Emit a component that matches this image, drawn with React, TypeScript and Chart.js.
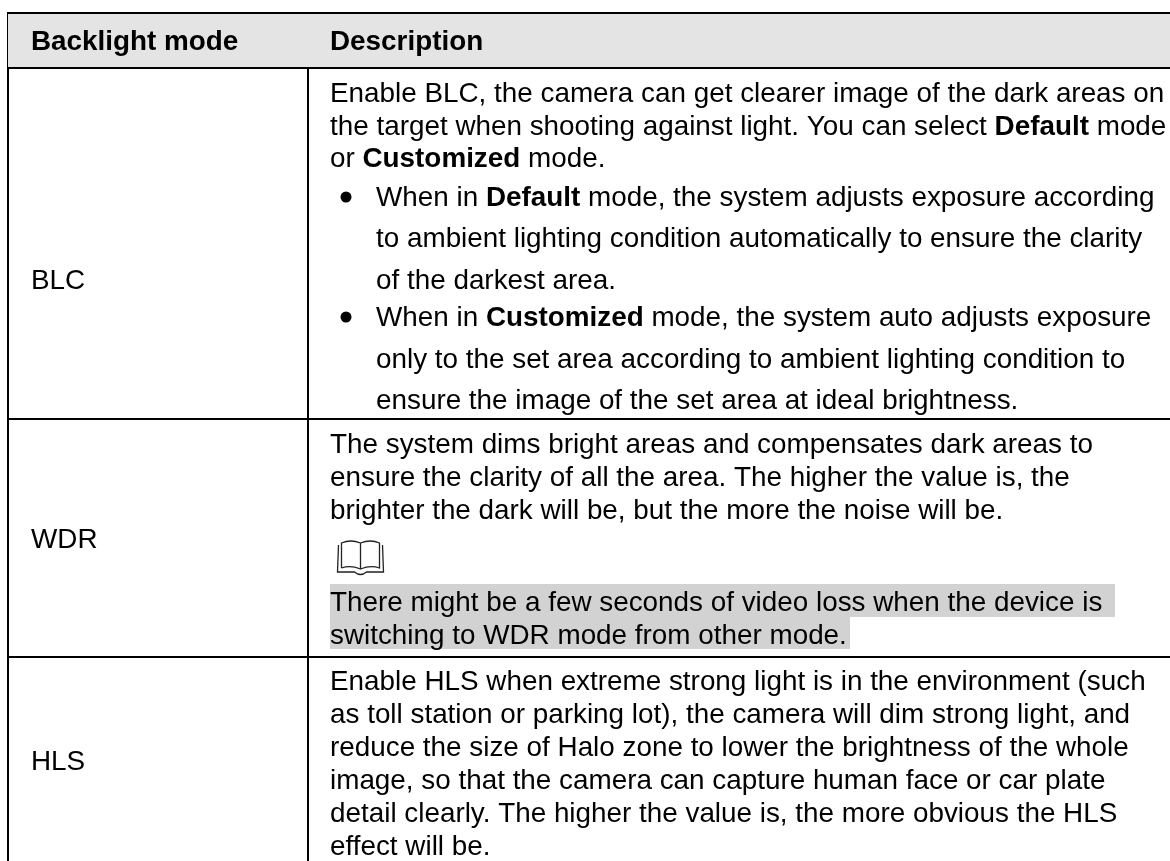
import React, { useEffect, useRef } from "react";
import { Chart, registerables } from "chart.js";

Chart.register(...registerables);

type Run = string | { b: string };

const columnHeaders = ["Backlight mode", "Description"];
const modes = ["BLC", "WDR", "HLS"];
const blcLines: Run[][] = [
  ["Enable BLC, the camera can get clearer image of the dark areas on"],
  ["the target when shooting against light. You can select ", { b: "Default" }, " mode"],
  ["or ", { b: "Customized" }, " mode."],
];
const blcBullets: Run[][] = [
  ["When in ", { b: "Default" }, " mode, the system adjusts exposure according"],
  ["to ambient lighting condition automatically to ensure the clarity"],
  ["of the darkest area."],
  ["When in ", { b: "Customized" }, " mode, the system auto adjusts exposure"],
  ["only to the set area according to ambient lighting condition to"],
  ["ensure the image of the set area at ideal brightness."],
];
const wdrLines: Run[][] = [
  ["The system dims bright areas and compensates dark areas to"],
  ["ensure the clarity of all the area. The higher the value is, the"],
  ["brighter the dark will be, but the more the noise will be."],
];
const wdrNote = [
  "There might be a few seconds of video loss when the device is",
  "switching to WDR mode from other mode.",
];
const hlsLines: Run[][] = [
  ["Enable HLS when extreme strong light is in the environment (such"],
  ["as toll station or parking lot), the camera will dim strong light, and"],
  ["reduce the size of Halo zone to lower the brightness of the whole"],
  ["image, so that the camera can capture human face or car plate"],
  ["detail clearly. The higher the value is, the more obvious the HLS"],
  ["effect will be."],
];

const W = 1170;
const H = 861;
const FONT = '"Liberation Sans", Arial, sans-serif';
const SIZE = 27.85;
const colLeft = 8;
const colSplit = 308;
const textA = 31;
const textB = 330;
const ruleYs = [13, 68, 419, 657];
const headerBaseline = 50;
const blcBase = [102, 135, 167];
const bulletBase = [206, 247, 289, 326, 368, 409];
const wdrBase = [453, 486, 519];
const noteBase = [611, 644];
const hlsBase = [690, 723, 756, 789, 822, 855];
const modeBase = [289, 548, 770];

const hline = (y: number, x0 = colLeft) => [{ x: x0, y }, { x: W, y }];
const vline = (x: number) => [{ x, y: 12 }, { x, y: H }];
const rule = (data: any[]) => ({ data, showLine: true, pointRadius: 0, borderColor: "#000", borderWidth: 2, fill: false });
const band = (x0: number, x1: number, y0: number, y1: number, color: string) => ({
  data: [{ x: x0, y: y0 }, { x: x1, y: y0 }],
  showLine: true, pointRadius: 0, borderWidth: 0, borderColor: "transparent",
  backgroundColor: color, fill: { value: y1 },
});

const drawRuns = (ctx: CanvasRenderingContext2D, runs: Run[], x: number, y: number) => {
  let cx = x;
  for (const r of runs) {
    const bold = typeof r !== "string";
    const t = typeof r === "string" ? r : r.b;
    ctx.font = `${bold ? "bold " : ""}${SIZE}px ${FONT}`;
    ctx.fillText(t, cx, y);
    cx += ctx.measureText(t).width;
  }
};

const tablePlugin = {
  id: "tableText",
  afterDatasetsDraw(chart: any) {
    const { ctx, scales } = chart;
    const px = (v: number) => scales.x.getPixelForValue(v);
    const py = (v: number) => scales.y.getPixelForValue(v);
    ctx.save();
    ctx.fillStyle = "#000";
    ctx.textBaseline = "alphabetic";
    ctx.textAlign = "left";
    drawRuns(ctx, [{ b: columnHeaders[0] }], px(textA), py(headerBaseline));
    drawRuns(ctx, [{ b: columnHeaders[1] }], px(textB), py(headerBaseline));
    modes.forEach((m, i) => drawRuns(ctx, [m], px(textA), py(modeBase[i])));
    blcLines.forEach((l, i) => drawRuns(ctx, l, px(textB), py(blcBase[i])));
    blcBullets.forEach((l, i) => drawRuns(ctx, l, px(376), py(bulletBase[i])));
    [0, 3].forEach((i) => {
      ctx.beginPath();
      ctx.arc(px(346), py(bulletBase[i] - 9), 5.5, 0, Math.PI * 2);
      ctx.fill();
    });
    wdrLines.forEach((l, i) => drawRuns(ctx, l, px(textB), py(wdrBase[i])));
    wdrNote.forEach((l, i) => drawRuns(ctx, [l], px(textB), py(noteBase[i])));
    hlsLines.forEach((l, i) => drawRuns(ctx, l, px(textB), py(hlsBase[i])));

    // book icon
    const x = px(337.5), y = py(541), w = 46, h = 33;
    ctx.strokeStyle = "#222";
    ctx.lineWidth = 1.3;
    ctx.beginPath();
    ctx.moveTo(x + 4, y + h - 6);
    ctx.lineTo(x + 4, y + 2);
    ctx.quadraticCurveTo(x + 13, y - 2, x + w / 2, y + 2);
    ctx.quadraticCurveTo(x + w - 13, y - 2, x + w - 4, y + 2);
    ctx.lineTo(x + w - 4, y + h - 6);
    ctx.quadraticCurveTo(x + w - 13, y + h - 9, x + w / 2, y + h - 5);
    ctx.quadraticCurveTo(x + 13, y + h - 9, x + 4, y + h - 6);
    ctx.moveTo(x + w / 2, y + 2);
    ctx.lineTo(x + w / 2, y + h - 5);
    ctx.moveTo(x + 1, y + 4);
    ctx.lineTo(x, y + h - 2);
    ctx.lineTo(x + w / 2 - 6, y + h - 2);
    ctx.quadraticCurveTo(x + w / 2, y + h + 3, x + w / 2 + 6, y + h - 2);
    ctx.lineTo(x + w, y + h - 2);
    ctx.lineTo(x + w - 1, y + 4);
    ctx.stroke();
    ctx.restore();
  },
};

export default function App() {
  const ref = useRef<HTMLCanvasElement>(null);
  useEffect(() => {
    document.body.style.margin = "0";
    const chart = new Chart(ref.current!, {
      type: "scatter",
      data: {
        datasets: [
          band(colLeft, W, 14, 67, "#e4e4e4"),
          band(textB, 1115, 584, 617, "#d2d2d2"),
          band(textB, 850, 617, 649, "#d2d2d2"),
          ...ruleYs.map((y) => rule(hline(y))),
          rule(vline(colLeft)),
          rule(vline(colSplit)),
        ] as any,
      },
      options: {
        animation: false,
        responsive: false,
        layout: { padding: 0 },
        plugins: { legend: { display: false }, tooltip: { enabled: false } },
        scales: {
          x: { type: "linear", min: 0, max: W, display: false },
          y: { type: "linear", min: 0, max: H, reverse: true, display: false },
        },
      },
      plugins: [tablePlugin],
    });
    return () => chart.destroy();
  }, []);
  return <canvas ref={ref} width={W} height={H} style={{ display: "block" }} />;
}
